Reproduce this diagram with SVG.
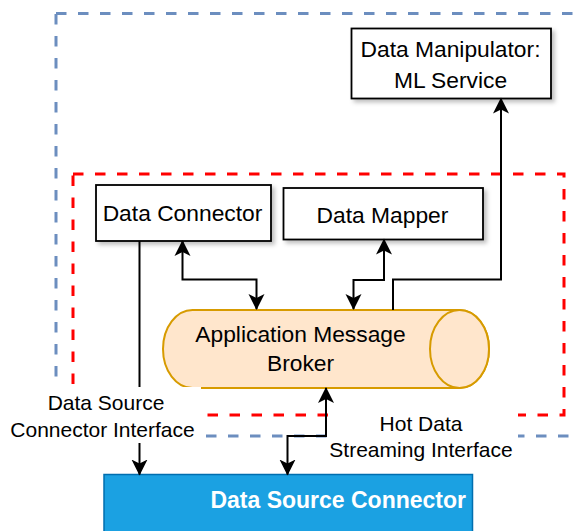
<svg xmlns="http://www.w3.org/2000/svg" width="577" height="531" viewBox="0 0 577 531">
<defs>
<style>
.dash-blue{fill:none;stroke:#6C8EBF;stroke-width:3;stroke-dasharray:10.5 11.5}
.dash-red{fill:none;stroke:#FF0000;stroke-width:3;stroke-dasharray:10.5 11.5}
.box{fill:#FFFFFF;stroke:#000000;stroke-width:1.8}
.lbl{font-family:"Liberation Sans",Arial,Helvetica,sans-serif;font-size:22.8px;fill:#000000;text-anchor:middle}
.elbl{font-family:"Liberation Sans",Arial,Helvetica,sans-serif;font-size:21px;fill:#000000;text-anchor:middle}
.conn{fill:none;stroke:#000000;stroke-width:2}
.bg{fill:#FFFFFF;stroke:none}
</style>
<filter id="sh" x="-10%" y="-10%" width="130%" height="140%">
<feDropShadow dx="3" dy="3" stdDeviation="2" flood-color="#000000" flood-opacity="0.25"/>
</filter>
<marker id="arr" markerUnits="userSpaceOnUse" markerWidth="18" markerHeight="18" refX="15" refY="8" orient="auto-start-reverse" viewBox="0 0 18 16">
<path d="M0,0 L16,8 L0,16 L4,8 Z" fill="#000000"/>
</marker>
</defs>
<rect width="577" height="531" fill="#FFFFFF"/>
<g id="zone-outer"><rect class="dash-blue" x="56" y="13.5" width="540" height="422.5"/></g>
<g id="zone-inner"><rect class="dash-red" x="73" y="174" width="491" height="241"/></g>
<g id="ml-service">
<rect class="box" filter="url(#sh)" x="351.5" y="28.5" width="199.5" height="70"/>
<text class="lbl" x="450.5" y="56.5">Data Manipulator:</text>
<text class="lbl" x="450.5" y="87.5">ML Service</text>
</g>
<g id="data-connector">
<rect class="box" filter="url(#sh)" x="96" y="185" width="175" height="56"/>
<text class="lbl" x="182.5" y="220.5">Data Connector</text>
</g>
<g id="data-mapper">
<rect class="box" filter="url(#sh)" x="283.5" y="188" width="199.5" height="51.5"/>
<text class="lbl" x="382.5" y="222.5">Data Mapper</text>
</g>
<g id="broker">
<path d="M192.5,310 L459.5,310 A29.5,39 0 0 1 459.5,388 L192.5,388 A29.5,39 0 0 1 192.5,310 Z" fill="#FFE6CC" stroke="#D79B00" stroke-width="2"/>
<ellipse cx="459.5" cy="349" rx="29.5" ry="39" fill="#FFE6CC" stroke="#D79B00" stroke-width="2"/>
<text class="lbl" x="300.5" y="342">Application Message</text>
<text class="lbl" x="300.5" y="370.5">Broker</text>
</g>
<g id="data-source-connector">
<rect x="104" y="474.5" width="368.5" height="80" fill="#1BA1E2" stroke="#006EAF" stroke-width="1.5"/>
<text x="466" y="508" font-family="'Liberation Sans',Arial,Helvetica,sans-serif" font-size="23" font-weight="bold" fill="#FFFFFF" text-anchor="end">Data Source Connector</text>
</g>
<g id="connectors">
<path class="conn" d="M182.5,241 V279.5 H256.5 V309" marker-start="url(#arr)" marker-end="url(#arr)"/>
<path class="conn" d="M384,239.5 V280 H353.5 V309" marker-start="url(#arr)" marker-end="url(#arr)"/>
<path class="conn" d="M393,310 V279.5 H501 V98.5" marker-end="url(#arr)"/>
<path class="conn" d="M139.5,241 V474.5" marker-end="url(#arr)"/>
<path class="conn" d="M326,388 V436 H287.5 V474.5" marker-start="url(#arr)" marker-end="url(#arr)"/>
</g>
<g id="label-dsci">
<rect class="bg" x="8" y="387" width="193" height="56"/>
<text class="elbl" x="106" y="410">Data Source</text>
<text class="elbl" x="102.5" y="436.5">Connector Interface</text>
</g>
<g id="label-hdsi">
<rect class="bg" x="328" y="410" width="190" height="53"/>
<text class="elbl" x="421" y="430.5">Hot Data</text>
<text class="elbl" x="421" y="457">Streaming Interface</text>
</g>
</svg>
